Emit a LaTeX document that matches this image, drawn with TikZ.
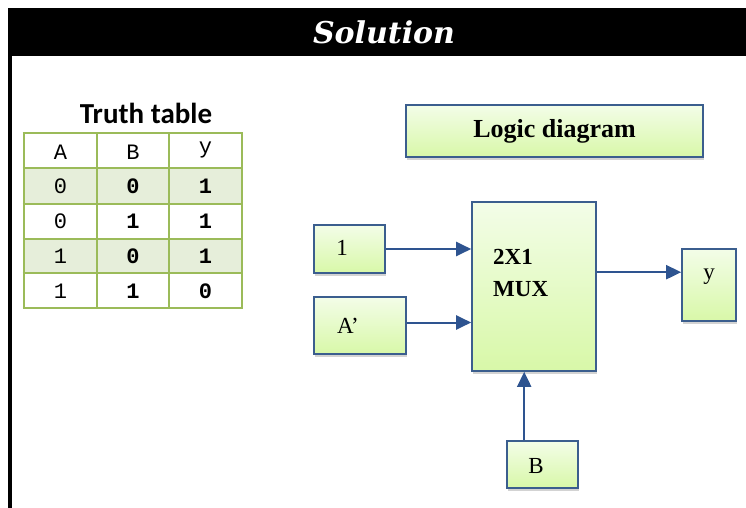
\documentclass[tikz,border=0pt]{standalone}
\usepackage{fontspec}
\setmainfont{Liberation Serif}
\newfontfamily\titlefont{DejaVu Serif}
\newfontfamily\headfont{Carlito}
\newfontfamily\tablefont{Liberation Mono}
\usetikzlibrary{arrows.meta,shadows}

\definecolor{tblgreen}{HTML}{9BBB59}
\definecolor{rowgreen}{HTML}{E6EEDA}
\definecolor{boxblue}{HTML}{3B5E8E}
\definecolor{arrowblue}{HTML}{2E5490}
\definecolor{boxtop}{HTML}{F3FDE8}
\definecolor{boxbottom}{HTML}{D8F8A8}

\tikzset{
  block/.style = {rectangle, draw = boxblue, line width = 1.6pt, top color = boxtop,
    bottom color = boxbottom, inner sep = 0pt,
    drop shadow = {shadow xshift = 1pt, shadow yshift = -2.5pt, opacity = 0.35}},
  signal/.style = {draw = arrowblue, line width = 2pt, -{Triangle[length = 15pt, width = 14pt]}},
  cell/.style = {inner sep = 0pt, font = \tablefont\fontsize{22}{24}\selectfont}
}

\begin{document}
\begin{tikzpicture}[x = 1pt, y = -1pt]
\useasboundingbox (0,0) rectangle (746,508);

% frame and heading
\fill[black] (8,8) rectangle (746,56);
\fill[black] (8,56) rectangle (12,508);
\node[text = white, font = \titlefont\fontsize{30}{34}\selectfont\bfseries\itshape] (title) at (384,32) {Solution};

% truth table
\node[font = \headfont\fontsize{29}{32}\selectfont\bfseries] (tthead) at (146,113) {Truth table};
\fill[rowgreen] (24,168) rectangle (242,204);
\fill[rowgreen] (24,239) rectangle (242,273);
\foreach \y in {133,168,204,239,273,308}
   \draw[tblgreen, line width = 2.6pt] (22.7,\y) -- (243.3,\y);
\foreach \x in {24,97,169,242}
   \draw[tblgreen, line width = 2.6pt] (\x,133) -- (\x,308);

\node[cell] (hA) at (60.5,152) {A};
\node[cell] (hB) at (133,152) {B};
\node[cell] (hy) at (205.5,150) {y};

\foreach \a/\b/\q [count = \r] in {0/0/1, 0/1/1, 1/0/1, 1/1/0}{
   \pgfmathsetmacro{\ry}{int(186 + (\r-1)*35)}
   \node[cell] (a\r) at (60.5,\ry) {\a};
   \node[cell, font = \tablefont\fontsize{22}{24}\selectfont\bfseries] (b\r) at (133,\ry) {\b};
   \node[cell, font = \tablefont\fontsize{22}{24}\selectfont\bfseries] (q\r) at (205.5,\ry) {\q};
   }

% logic diagram
\node[block, minimum width = 297pt, minimum height = 52pt, font = \fontsize{26}{28}\selectfont\bfseries] (ldhead) at (554.5,131) {Logic diagram};

\node[block, minimum width = 71pt, minimum height = 48pt] (one) at (349.5,249) {};
\node[font = \fontsize{23}{24}\selectfont] (onelbl) at (342,248) {1};

\node[block, minimum width = 92pt, minimum height = 57pt] (abar) at (360,325.5) {};
\node[font = \fontsize{23}{24}\selectfont] (abarlbl) at (348,326) {A’};

\node[block, minimum width = 124pt, minimum height = 169pt] (mux) at (534,286.5) {};
\node[anchor = north west, align = left, inner sep = 0pt, font = \fontsize{23}{32}\selectfont\bfseries] (muxlbl) at (493,249) {2X1\\MUX};

\node[block, minimum width = 54pt, minimum height = 72pt] (out) at (709,285) {};
\node[font = \fontsize{23}{24}\selectfont] (outlbl) at (709,277) {y};

\node[block, minimum width = 71pt, minimum height = 47pt] (sel) at (542.5,464.5) {};
\node[font = \fontsize{23}{24}\selectfont] (sellbl) at (536,466) {B};

\coordinate (muxout) at ([yshift = -71pt]mux.north east);
\coordinate (selin) at ([xshift = 18pt]sel.north west);

\draw[signal] (one.east) -- (one.east -| mux.west);
\draw[signal] ([yshift = 3pt]abar.east) -- ([yshift = 3pt]abar.east -| mux.west);
\draw[signal] (muxout) -- (muxout -| out.west);
\draw[signal] (selin) -- (selin |- mux.south);
\end{tikzpicture}
\end{document}
